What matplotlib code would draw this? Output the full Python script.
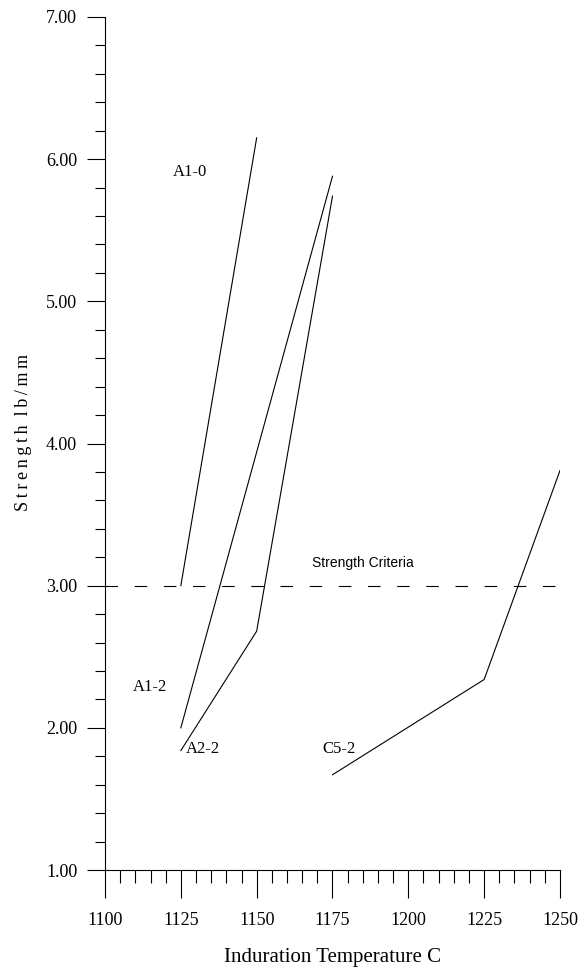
import matplotlib.pyplot as plt
from matplotlib.ticker import MultipleLocator, FormatStrFormatter

plt.rcParams['font.family'] = ['Liberation Serif', 'DejaVu Serif']
plt.rcParams['lines.scale_dashes'] = False

# Strength curves vs. induration temperature
temp_a10 = [1125, 1150]
str_a10 = [3.00, 6.15]

temp_a12 = [1125, 1150, 1175]
str_a12 = [2.00, 3.94, 5.88]

temp_a22 = [1125, 1150, 1175]
str_a22 = [1.84, 2.68, 5.74]

temp_c52 = [1175, 1225, 1250]
str_c52 = [1.67, 2.34, 3.81]

criteria = 3.00

fig = plt.figure(figsize=(5.86, 9.71), dpi=100)
ax = fig.add_axes([0.1792, 0.104, 0.7764, 0.8785])

for t, s in [(temp_a10, str_a10), (temp_a12, str_a12),
             (temp_a22, str_a22), (temp_c52, str_c52)]:
    ax.plot(t, s, color='black', lw=0.8)

ax.plot([1100, 1250], [criteria, criteria], color='black', lw=0.8,
        dashes=(9, 12))

# curve labels
ax.text(1122.4, 5.91, 'A1-0', fontsize=12, va='center')
ax.text(1109.3, 2.29, 'A1-2', fontsize=12, va='center')
ax.text(1126.6, 1.85, 'A2-2', fontsize=12, va='center')
ax.text(1171.7, 1.85, 'C5-2', fontsize=12, va='center')
ax.text(1168.1, 3.16, 'Strength Criteria', fontsize=10, va='center',
        family=['Liberation Sans Narrow', 'Liberation Sans', 'DejaVu Sans'])

ax.set_xlim(1100, 1250)
ax.set_ylim(1, 7)

ax.xaxis.set_major_locator(MultipleLocator(25))
ax.xaxis.set_minor_locator(MultipleLocator(5))
ax.yaxis.set_major_locator(MultipleLocator(1))
ax.yaxis.set_minor_locator(MultipleLocator(0.2))
ax.yaxis.set_major_formatter(FormatStrFormatter('%.2f'))

ax.tick_params(axis='x', which='major', length=20, width=0.8, pad=10,
               labelsize=13, direction='out')
ax.tick_params(axis='x', which='minor', length=9.5, width=0.8, direction='out')
ax.tick_params(axis='y', which='major', length=13, width=0.8, pad=7,
               labelsize=13, direction='out')
ax.tick_params(axis='y', which='minor', length=7, width=0.8, direction='out')

for side in ['top', 'right']:
    ax.spines[side].set_visible(False)
for side in ['left', 'bottom']:
    ax.spines[side].set_linewidth(0.8)

ax.set_xlabel('Induration Temperature C', fontsize=15)
ax.xaxis.label.set_va('center')
ax.xaxis.set_label_coords(0.5, -0.103)

# letter-spaced axis title, thin spaces between the letters
ts = '\u2009'
ylab = ts.join('Strength') + '  ' + ts.join('lb/mm')
ax.set_ylabel(ylab, fontsize=13)
ax.yaxis.label.set_va('center')
ax.yaxis.set_label_coords(-0.18, 0.513)

fig.savefig('out.png', dpi=100)
